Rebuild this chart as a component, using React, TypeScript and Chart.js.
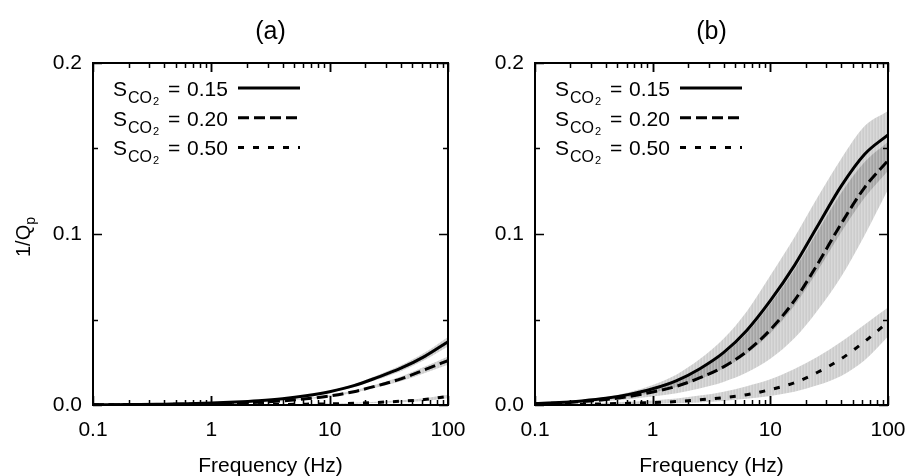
import React, { useEffect, useRef } from "react";
import { Chart, registerables } from "chart.js";
Chart.register(...registerables);

const FONT = '"Liberation Sans", Arial, Helvetica, sans-serif';

// Frequencies (Hz), evenly spaced on the log axis
const FREQ = [0.1, 0.16, 0.25, 0.4, 0.63, 1, 1.6, 2.5, 4, 6.3, 10, 16, 25, 40, 63, 100];
const X_LABELS = [0.1, 1, 10, 100];
const Y_LABELS = [0, 0.1, 0.2];
const SERIES_NAMES = ["0.15", "0.20", "0.50"];

// Panel (a)
const A_015 = [0.0001, 0.0002, 0.0003, 0.0005, 0.0007, 0.0011, 0.0017, 0.0025, 0.0037, 0.0054, 0.0078, 0.0113, 0.016, 0.0215, 0.0283, 0.037];
const A_015_HI = [0.0001, 0.0002, 0.0003, 0.0006, 0.0008, 0.0012, 0.0019, 0.0027, 0.004, 0.0059, 0.0085, 0.0122, 0.0173, 0.0232, 0.0305, 0.0398];
const A_015_LO = [0.0001, 0.0002, 0.0003, 0.0004, 0.0006, 0.001, 0.0015, 0.0023, 0.0034, 0.005, 0.0072, 0.0104, 0.0147, 0.0198, 0.0261, 0.0342];
const A_020 = [0.0001, 0.0001, 0.0002, 0.0003, 0.0005, 0.0007, 0.0011, 0.0016, 0.0024, 0.0036, 0.0053, 0.0078, 0.0112, 0.0153, 0.0205, 0.026];
const A_020_HI = [0.0001, 0.0001, 0.0002, 0.0003, 0.0006, 0.0008, 0.0012, 0.0018, 0.0026, 0.0039, 0.0058, 0.0085, 0.0122, 0.0167, 0.0224, 0.0284];
const A_020_LO = [0, 0.0001, 0.0002, 0.0003, 0.0004, 0.0006, 0.001, 0.0014, 0.0022, 0.0033, 0.0048, 0.0071, 0.0102, 0.0139, 0.0186, 0.0236];
const A_050 = [0, 0, 0, 0.0001, 0.0001, 0.0001, 0.0001, 0.0002, 0.0003, 0.0005, 0.0007, 0.001, 0.0015, 0.0022, 0.0032, 0.005];
const A_050_HI = [0.0001, 0.0001, 0.0001, 0.0001, 0.0001, 0.0001, 0.0002, 0.0003, 0.0004, 0.0006, 0.0009, 0.0013, 0.0019, 0.0028, 0.004, 0.006];
const A_050_LO = [0, 0, 0, 0, 0, 0, 0, 0.0001, 0.0002, 0.0004, 0.0005, 0.0007, 0.0011, 0.0016, 0.0024, 0.004];

// Panel (b)
const B_015 = [0.0008, 0.0014, 0.0024, 0.0039, 0.0062, 0.0095, 0.0143, 0.0211, 0.0306, 0.0436, 0.061, 0.0815, 0.1042, 0.128, 0.1465, 0.158];
const B_015_HI = [0.0014, 0.002, 0.003, 0.0047, 0.0075, 0.0117, 0.0179, 0.0267, 0.0387, 0.0547, 0.0757, 0.098, 0.121, 0.144, 0.163, 0.172];
const B_015_LO = [0.0007, 0.0011, 0.0019, 0.003, 0.0047, 0.0072, 0.0105, 0.015, 0.0213, 0.03, 0.042, 0.058, 0.078, 0.101, 0.121, 0.137];
const B_020 = [0.0007, 0.0012, 0.002, 0.0032, 0.005, 0.0076, 0.011, 0.0158, 0.0223, 0.0313, 0.044, 0.061, 0.082, 0.106, 0.127, 0.143];
const B_020_HI = [0.0008, 0.0013, 0.0023, 0.0037, 0.0059, 0.009, 0.0137, 0.0203, 0.0295, 0.042, 0.059, 0.079, 0.101, 0.124, 0.142, 0.154];
const B_020_LO = [0.0006, 0.001, 0.0015, 0.0023, 0.0034, 0.0049, 0.0069, 0.0097, 0.0135, 0.019, 0.027, 0.039, 0.055, 0.075, 0.099, 0.126];
const B_050 = [0.0002, 0.0003, 0.0005, 0.0007, 0.001, 0.0014, 0.002, 0.003, 0.0043, 0.006, 0.009, 0.013, 0.019, 0.027, 0.037, 0.0485];
const B_050_HI = [0.0004, 0.0006, 0.0009, 0.0013, 0.0019, 0.0027, 0.0038, 0.0055, 0.0078, 0.011, 0.015, 0.021, 0.028, 0.037, 0.047, 0.057];
const B_050_LO = [0.0001, 0.0001, 0.0002, 0.0003, 0.0005, 0.0007, 0.001, 0.0015, 0.0024, 0.0036, 0.0053, 0.0078, 0.0115, 0.017, 0.026, 0.04];

const DASHES: number[][] = [[], [11, 5], [6, 9]];

function pts(arr: number[]) {
  return FREQ.map((f, i) => ({ x: f, y: arr[i] }));
}

function makePattern(): CanvasPattern | string {
  const c = document.createElement("canvas");
  c.width = 3;
  c.height = 4;
  const g = c.getContext("2d");
  if (!g) return "rgba(0,0,0,0.18)";
  const a = [0.2, 0.15, 0.18];
  a.forEach((al, i) => {
    g.fillStyle = `rgba(0,0,0,${al})`;
    g.fillRect(i, 0, 1, 4);
  });
  const p = g.createPattern(c, "repeat");
  return p || "rgba(0,0,0,0.18)";
}

type PanelProps = {
  label: string;
  left: number;
  width: number;
  axisWidth: number;
  padRight: number;
  showYTitle: boolean;
  lines: number[][];
  his: number[][];
  los: number[][];
};

function Panel(props: PanelProps) {
  const ref = useRef<HTMLCanvasElement | null>(null);
  useEffect(() => {
    const cv = ref.current;
    if (!cv) return;
    const pattern = makePattern();
    const datasets: any[] = [];
    for (let i = 0; i < 3; i++) {
      datasets.push({
        data: pts(props.los[i]),
        borderWidth: 0,
        pointRadius: 0,
        fill: false,
        cubicInterpolationMode: "monotone",
        order: 2,
      });
      datasets.push({
        data: pts(props.his[i]),
        borderWidth: 0,
        pointRadius: 0,
        fill: "-1",
        backgroundColor: pattern,
        cubicInterpolationMode: "monotone",
        order: 2,
      });
    }
    for (let i = 0; i < 3; i++) {
      datasets.push({
        data: pts(props.lines[i]),
        borderColor: "#000",
        borderWidth: 3,
        borderDash: DASHES[i],
        pointRadius: 0,
        fill: false,
        cubicInterpolationMode: "monotone",
        order: 0,
      });
    }

    const decor = {
      id: "decor",
      afterDraw(chart: any) {
        const ctx = chart.ctx as CanvasRenderingContext2D;
        const { left, right, top, bottom } = chart.chartArea;
        const xs = chart.scales.x;
        const ys = chart.scales.y;
        ctx.save();
        ctx.strokeStyle = "#000";
        ctx.lineWidth = 1.5;
        // x ticks (log, inward, top and bottom)
        for (const d of [0.1, 1, 10]) {
          for (let m = 1; m <= 10; m++) {
            const f = m * d;
            const major = m === 1 || m === 10;
            const len = major ? 9 : 5;
            const px = Math.round(xs.getPixelForValue(f)) + 0.5;
            ctx.beginPath();
            ctx.moveTo(px, bottom);
            ctx.lineTo(px, bottom - len);
            ctx.moveTo(px, top);
            ctx.lineTo(px, top + len);
            ctx.stroke();
          }
        }
        // y ticks (inward, left and right)
        for (let k = 0; k <= 4; k++) {
          const v = k * 0.05;
          const major = k % 2 === 0;
          const len = major ? 9 : 5;
          const py = Math.round(ys.getPixelForValue(v)) + 0.5;
          ctx.beginPath();
          ctx.moveTo(left, py);
          ctx.lineTo(left + len, py);
          ctx.moveTo(right, py);
          ctx.lineTo(right - len, py);
          ctx.stroke();
        }
        // frame
        ctx.lineWidth = 2;
        ctx.strokeRect(left, top, right - left, bottom - top);

        // legend
        ctx.fillStyle = "#000";
        ctx.textBaseline = "alphabetic";
        ctx.textAlign = "left";
        for (let i = 0; i < 3; i++) {
          const by = 96 + i * 29.7;
          const lx = left + 20;
          ctx.font = `21px ${FONT}`;
          ctx.fillText("S", lx, by);
          const sw = ctx.measureText("S").width;
          ctx.font = `16px ${FONT}`;
          ctx.fillText("CO", lx + sw + 1, by + 7);
          const cw = ctx.measureText("CO").width;
          ctx.font = `11px ${FONT}`;
          ctx.fillText("2", lx + sw + 1 + cw + 1, by + 9);
          ctx.font = `21px ${FONT}`;
          ctx.fillText("=", left + 75, by);
          ctx.fillText(SERIES_NAMES[i], left + 94, by);
          ctx.beginPath();
          ctx.lineWidth = 3;
          ctx.setLineDash(DASHES[i]);
          ctx.moveTo(left + 145, by - 8);
          ctx.lineTo(left + 207, by - 8);
          ctx.stroke();
          ctx.setLineDash([]);
        }

        // panel title
        ctx.font = `25px ${FONT}`;
        ctx.textAlign = "center";
        ctx.fillText(props.label, (left + right) / 2, 39);

        // x axis title
        ctx.font = `21px ${FONT}`;
        ctx.fillText("Frequency (Hz)", (left + right) / 2, 472);

        // y axis title
        if (props.showYTitle) {
          ctx.save();
          ctx.translate(30, 237);
          ctx.rotate(-Math.PI / 2);
          ctx.font = `20px ${FONT}`;
          const mw = ctx.measureText("1/Q").width;
          ctx.font = `14px ${FONT}`;
          const pw = ctx.measureText("p").width;
          const start = -(mw + pw) / 2;
          ctx.textAlign = "left";
          ctx.font = `20px ${FONT}`;
          ctx.fillText("1/Q", start, 0);
          ctx.font = `14px ${FONT}`;
          ctx.fillText("p", start + mw, 5);
          ctx.restore();
        }
        ctx.restore();
      },
    };

    const chart = new Chart(cv, {
      type: "line",
      data: { datasets },
      plugins: [decor],
      options: {
        responsive: false,
        animation: false,
        devicePixelRatio: 1,
        layout: { padding: { top: 63, right: props.padRight, left: 0, bottom: 0 } },
        plugins: {
          legend: { display: false },
          tooltip: { enabled: false },
          filler: { drawTime: "beforeDatasetsDraw" } as any,
        },
        scales: {
          x: {
            type: "logarithmic",
            min: 0.1,
            max: 100,
            grid: { display: false, drawTicks: false },
            border: { display: false },
            afterFit: (s: any) => {
              s.height = 71;
            },
            afterBuildTicks: (s: any) => {
              s.ticks = X_LABELS.map((v) => ({ value: v }));
            },
            ticks: {
              autoSkip: false,
              maxRotation: 0,
              padding: 0,
              color: "#000",
              font: { family: FONT, size: 21, lineHeight: "51px" },
              callback: (v: any) => String(v),
            },
          },
          y: {
            type: "linear",
            min: 0,
            max: 0.2,
            grid: { display: false, drawTicks: false },
            border: { display: false },
            afterFit: (s: any) => {
              s.width = props.axisWidth;
            },
            afterBuildTicks: (s: any) => {
              s.ticks = Y_LABELS.map((v) => ({ value: v }));
            },
            ticks: {
              padding: 11,
              color: "#000",
              font: { family: FONT, size: 21 },
              callback: (v: any) => Number(v).toFixed(1),
            },
          },
        },
      } as any,
    });
    return () => chart.destroy();
  }, []);
  return (
    <canvas
      ref={ref}
      width={props.width}
      height={476}
      style={{ position: "absolute", left: props.left, top: 0, width: props.width, height: 476 }}
    />
  );
}

export default function App() {
  return (
    <div style={{ position: "absolute", left: 0, top: 0, width: 912, height: 476, background: "#fff" }}>
      <Panel
        label="(a)"
        left={0}
        width={470}
        axisWidth={93}
        padRight={22}
        showYTitle={true}
        lines={[A_015, A_020, A_050]}
        his={[A_015_HI, A_020_HI, A_050_HI]}
        los={[A_015_LO, A_020_LO, A_050_LO]}
      />
      <Panel
        label="(b)"
        left={470}
        width={442}
        axisWidth={65}
        padRight={24}
        showYTitle={false}
        lines={[B_015, B_020, B_050]}
        his={[B_015_HI, B_020_HI, B_050_HI]}
        los={[B_015_LO, B_020_LO, B_050_LO]}
      />
    </div>
  );
}
